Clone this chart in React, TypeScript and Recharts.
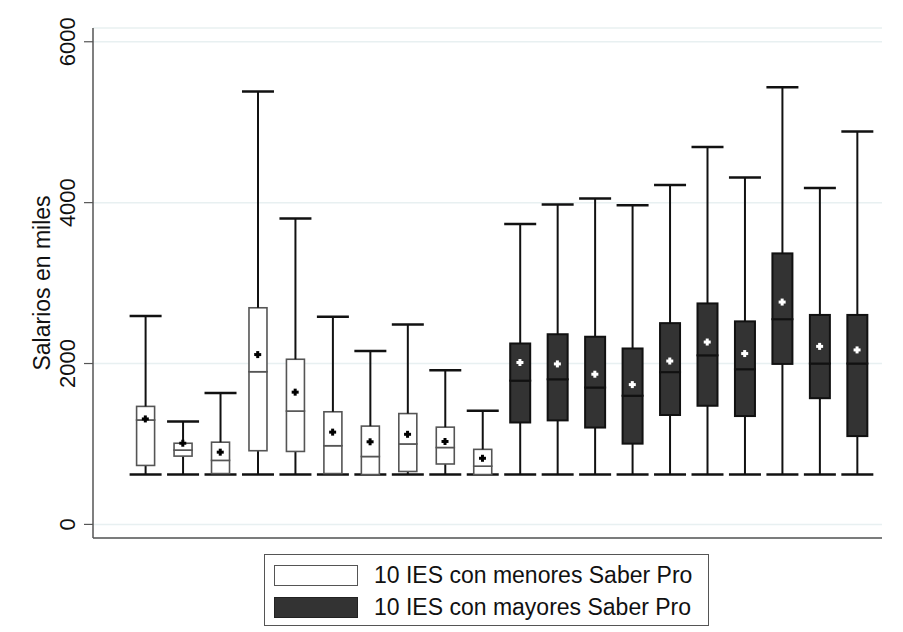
import { ComposedChart, Bar, Scatter, XAxis, YAxis, CartesianGrid, Legend } from "recharts";

const names = [
  "IES 1", "IES 2", "IES 3", "IES 4", "IES 5", "IES 6", "IES 7", "IES 8", "IES 9", "IES 10",
  "IES 11", "IES 12", "IES 13", "IES 14", "IES 15", "IES 16", "IES 17", "IES 18", "IES 19", "IES 20",
];
const groups = [
  "low", "low", "low", "low", "low", "low", "low", "low", "low", "low",
  "high", "high", "high", "high", "high", "high", "high", "high", "high", "high",
];
const lows = [620, 620, 620, 620, 620, 620, 620, 620, 620, 620, 620, 620, 620, 620, 620, 620, 620, 620, 620, 620];
const q1s = [733, 849, 632, 916, 907, 632, 620, 658, 751, 620, 1267, 1293, 1204, 1004, 1360, 1475, 1347, 1995, 1569, 1098];
const medians = [1298, 924, 796, 1898, 1409, 978, 844, 1000, 956, 724, 1787, 1804, 1702, 1600, 1893, 2102, 1929, 2551, 2000, 2000];
const q3s = [1467, 1009, 1022, 2693, 2053, 1400, 1222, 1378, 1209, 933, 2249, 2364, 2333, 2187, 2502, 2747, 2524, 3369, 2604, 2604];
const highs = [2591, 1280, 1635, 5382, 3804, 2582, 2156, 2484, 1915, 1413, 3733, 3978, 4053, 3969, 4218, 4693, 4311, 5435, 4182, 4884];
const means = [1311, 1009, 898, 2111, 1644, 1147, 1027, 1120, 1031, 822, 2013, 1995, 1867, 1738, 2031, 2267, 2124, 2764, 2213, 2169];
const yTicks = [0, 2000, 4000, 6000];
const legendLabels = ["10 IES con menores Saber Pro", "10 IES con mayores Saber Pro"];

// stacked segments: base -> lower whisker -> lower box -> upper box -> upper whisker
const data = names.map((name, i) => ({
  name,
  group: groups[i],
  base: lows[i],
  whiskLo: q1s[i] - lows[i],
  boxLo: medians[i] - q1s[i],
  boxHi: q3s[i] - medians[i],
  whiskHi: highs[i] - q3s[i],
  mean: means[i],
}));

const FONT = "'Liberation Sans', Arial, sans-serif";
const DARK = "#333333";
const CAP = 32;

const boxW = (g: string) => (g === "high" ? 20 : 18);

const BaseShape = (p: any) => {
  const cx = p.x + p.width / 2;
  return <line x1={cx - CAP / 2} x2={cx + CAP / 2} y1={p.y} y2={p.y} stroke="#111" strokeWidth={2.5} />;
};

const WhiskerLo = (p: any) => {
  const cx = p.x + p.width / 2;
  if (!p.height) return null;
  return <line x1={cx} x2={cx} y1={p.y} y2={p.y + p.height} stroke="#111" strokeWidth={2} />;
};

const BoxShape = (p: any) => {
  const g = p.payload.group;
  const w = boxW(g);
  const cx = p.x + p.width / 2;
  const dark = g === "high";
  return (
    <rect
      x={cx - w / 2}
      y={p.y}
      width={w}
      height={Math.max(p.height, 0)}
      fill={dark ? DARK : "#fff"}
      stroke={dark ? "#111" : "#555"}
      strokeWidth={dark ? 2 : 1.6}
    />
  );
};

const WhiskerHi = (p: any) => {
  const cx = p.x + p.width / 2;
  return (
    <g>
      <line x1={cx} x2={cx} y1={p.y} y2={p.y + p.height} stroke="#111" strokeWidth={2} />
      <line x1={cx - CAP / 2} x2={cx + CAP / 2} y1={p.y} y2={p.y} stroke="#111" strokeWidth={2.5} />
    </g>
  );
};

const MeanShape = (p: any) => {
  const c = p.payload.group === "high" ? "#fff" : "#000";
  const s = 3.5;
  return (
    <g>
      <line x1={p.cx - s} x2={p.cx + s} y1={p.cy} y2={p.cy} stroke={c} strokeWidth={3} />
      <line x1={p.cx} x2={p.cx} y1={p.cy - s} y2={p.cy + s} stroke={c} strokeWidth={3} />
    </g>
  );
};

const YTick = (p: any) => {
  const x = 75.5;
  const y = p.y;
  return (
    <g>
      <line x1={84} x2={93} y1={y} y2={y} stroke="#555" strokeWidth={1.2} />
      <text
        x={x}
        y={y}
        transform={`rotate(-90, ${x}, ${y})`}
        textAnchor="middle"
        fontFamily={FONT}
        fontSize={22}
        fill="#111"
      >
        {p.payload.value}
      </text>
    </g>
  );
};

const LegendBox = () => (
  <div
    style={{
      border: "1px solid #555",
      width: 445,
      height: 72,
      boxSizing: "border-box",
      background: "#fff",
      fontFamily: FONT,
      fontSize: 23,
      color: "#111",
      position: "relative",
    }}
  >
    {legendLabels.map((l, i) => (
      <div key={l} style={{ position: "absolute", left: 9, top: 9 + i * 32, display: "flex", alignItems: "center" }}>
        <div
          style={{
            width: 84,
            height: 21,
            boxSizing: "border-box",
            border: i === 0 ? "1.5px solid #555" : "1.5px solid #222",
            background: i === 0 ? "#fff" : DARK,
          }}
        />
        <span style={{ marginLeft: 16, lineHeight: "22px" }}>{l}</span>
      </div>
    ))}
  </div>
);

export default function App() {
  return (
    <div style={{ position: "absolute", left: 0, top: 0, background: "#fff" }}>
      <ComposedChart
        width={903}
        height={632}
        data={data}
        barCategoryGap={0}
        margin={{ top: 28, right: 21, left: 0, bottom: 93 }}
      >
        <CartesianGrid vertical={false} stroke="#e8f0f1" strokeWidth={1.5} />
        <XAxis
          dataKey="name"
          tick={false}
          tickLine={false}
          height={1}
          padding={{ left: 33.6, right: 6.2 }}
          axisLine={{ stroke: "#555", strokeWidth: 1.5 }}
        />
        <YAxis
          width={93}
          domain={[-169, 6171]}
          ticks={yTicks}
          tick={<YTick />}
          tickLine={false}
          axisLine={{ stroke: "#555", strokeWidth: 1.5 }}
          label={{
            value: "Salarios en miles",
            angle: -90,
            position: "insideLeft",
            offset: 0,
            style: { fontFamily: FONT, fontSize: 23, fill: "#111", textAnchor: "middle" },
            dx: 42,
          }}
        />
        <Bar dataKey="base" stackId="b" barSize={20} shape={<BaseShape />} isAnimationActive={false} />
        <Bar dataKey="whiskLo" stackId="b" barSize={20} shape={<WhiskerLo />} isAnimationActive={false} />
        <Bar dataKey="boxLo" stackId="b" barSize={20} shape={<BoxShape />} isAnimationActive={false} />
        <Bar dataKey="boxHi" stackId="b" barSize={20} shape={<BoxShape />} isAnimationActive={false} />
        <Bar dataKey="whiskHi" stackId="b" barSize={20} shape={<WhiskerHi />} isAnimationActive={false} />
        <Scatter dataKey="mean" shape={<MeanShape />} isAnimationActive={false} />
        <Legend
          layout="horizontal"
          verticalAlign="middle"
          align="center"
          wrapperStyle={{ left: 264, top: 554, width: 445, height: 72 }}
          content={<LegendBox />}
        />
      </ComposedChart>
    </div>
  );
}
